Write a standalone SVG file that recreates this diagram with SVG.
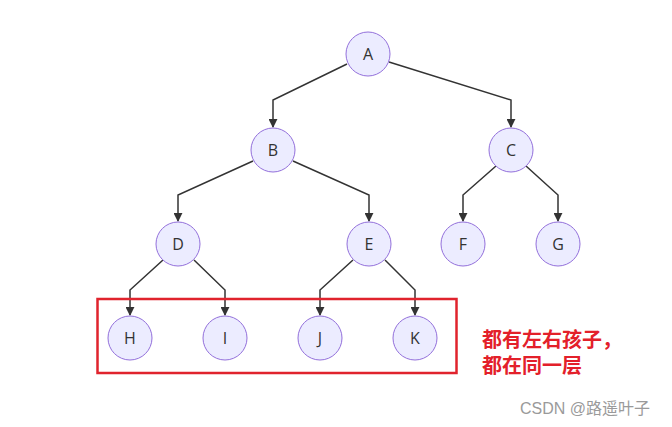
<svg xmlns="http://www.w3.org/2000/svg" width="672" height="427" viewBox="0 0 672 427">
<defs>
<style>
.node circle{fill:#ECECFF;stroke:#9370DB;stroke-width:1}
.node text{font-family:"Open Sans","Liberation Sans",sans-serif;font-size:16px;fill:#333;text-anchor:middle;dominant-baseline:central}
.edges path{fill:none;stroke:#333;stroke-width:1.5;marker-end:url(#arr)}
.note{font-family:"Liberation Sans","Noto Sans CJK SC",sans-serif;font-weight:bold;font-size:20px;fill:#e3202a;stroke:#fff;stroke-width:3;paint-order:stroke}
.wm{font-family:"Liberation Sans","Noto Sans CJK SC",sans-serif;font-size:16px;fill:#9a9a9a}
</style>
<marker id="arr" viewBox="0 0 10 10" refX="9" refY="5" markerWidth="6" markerHeight="6" markerUnits="strokeWidth" orient="auto">
<path d="M0,0 L10,5 L0,10 z" fill="#333"/>
</marker>
</defs>
<rect width="672" height="427" fill="#fff"/>
<g class="edges">
<path d="M347,64 L273,100 L273,127"/>
<path d="M389,62 L511,100 L511,127"/>
<path d="M253,161 L178,195 L178,221"/>
<path d="M293,161 L369,195 L369,221"/>
<path d="M496,166 L463,195 L463,221"/>
<path d="M526,166 L558,195 L558,221"/>
<path d="M163,260 L130,290 L130,315"/>
<path d="M194,260 L225,290 L225,315"/>
<path d="M353,260 L320,290 L320,315"/>
<path d="M385,260 L415,290 L415,315"/>
</g>
<g id="A" class="node"><circle cx="368" cy="54" r="22"/><text x="368" y="54">A</text></g>
<g id="B" class="node"><circle cx="273" cy="150" r="22"/><text x="273" y="150">B</text></g>
<g id="C" class="node"><circle cx="511" cy="150" r="22"/><text x="511" y="150">C</text></g>
<g id="D" class="node"><circle cx="178" cy="244" r="22"/><text x="178" y="244">D</text></g>
<g id="E" class="node"><circle cx="369" cy="244" r="22"/><text x="369" y="244">E</text></g>
<g id="F" class="node"><circle cx="463" cy="244" r="22"/><text x="463" y="244">F</text></g>
<g id="G" class="node"><circle cx="558" cy="244" r="22"/><text x="558" y="244">G</text></g>
<g id="H" class="node"><circle cx="130" cy="338" r="22"/><text x="130" y="338">H</text></g>
<g id="I" class="node"><circle cx="225" cy="338" r="22"/><text x="225" y="338">I</text></g>
<g id="J" class="node"><circle cx="320" cy="338" r="22"/><text x="320" y="338">J</text></g>
<g id="K" class="node"><circle cx="415" cy="338" r="22"/><text x="415" y="338">K</text></g>
<rect x="97.5" y="299" width="359" height="74" fill="none" stroke="#e0232d" stroke-width="2.5"/>
<text class="note" x="482" y="347">都有左右孩子，</text>
<text class="note" x="482" y="373">都在同一层</text>
<text class="wm" x="520" y="414">CSDN @路遥叶子</text>
</svg>
